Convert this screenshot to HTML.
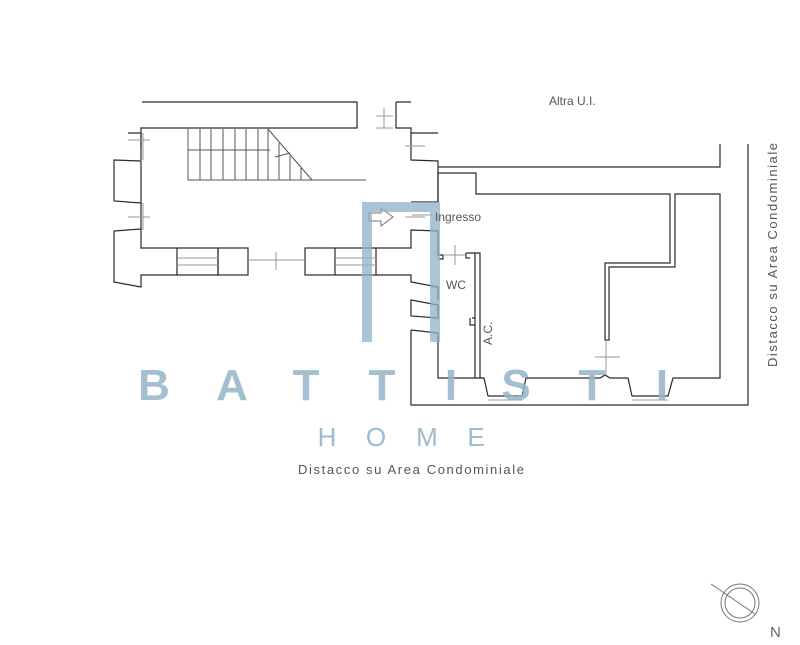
<!DOCTYPE html>
<html><head><meta charset="utf-8"><style>
html,body{margin:0;padding:0;background:#fff;}
svg{display:block;}
text{font-family:"Liberation Sans",sans-serif;}
</style></head><body>
<svg width="800" height="645" viewBox="0 0 800 645" xmlns="http://www.w3.org/2000/svg">
<rect width="800" height="645" fill="#fff"/>
<g fill="none" stroke="#2a2a2a" stroke-width="1.2">
<path d="M142 102 H357 V128 H141 V160"/>
<path d="M396 102 H411 M396 102 V128 H411 V133 H438"/>
<path d="M128 133 H141 V146"/>
<path d="M114 160 L141 161 V203 L114 201 Z"/>
<path d="M141 203 V230"/>
<path d="M114 231 L141 229 V248 H177 V275 H141 V287 L114 282 Z"/>
<path d="M177 248 H218 V275 H177"/>
<rect x="218" y="248" width="30" height="27"/>
<rect x="305" y="248" width="30" height="27"/>
<path d="M335 248 H376 V275 H335"/>
<path d="M376 248 H411 V230 L438 231 V255 H443 V259 H438"/>
<path d="M376 275 H411 V282 L438 287 V300"/>
<path d="M411 133 V160 L438 161 V202 L411 202"/>
<path d="M411 300 L438 305 V318 L411 316 Z"/>
<path d="M411 330 V405 H748 V144"/>
<path d="M411 330 L438 333 V378 H476"/>
<path d="M438 167 H720 V144"/>
<path d="M438 202 V173 H476 V194 H670 V263 H605 V340 H609 V267 H675 V194 H720 V378 H673 L668 396 H632 L628 378 H610 L605 375 L600 378 H526 L522 396 H488 L484 378 H480 V253 H475 V378"/>
<path d="M466 253 H475 M466 253 V258 H470"/>
<path d="M472 318 H475 M470 318 V325 H475"/>
<path d="M476 378 L484 378"/>
</g>
<g stroke="#555" stroke-width="1" fill="none">
<path d="M188 129 V180 H366"/>
<path d="M200 129V180M211 129V180M223 129V180M235 129V180M246 129V180M258 129V180M268 129V180M279 143V180M290 156V180M301 168V180"/>
<path d="M188 150 H270 M268 129 L312 180 M275 157 L290 153"/>
</g>
<g stroke="#999" stroke-width="1" fill="none">
<path d="M177 258 H218 M177 265 H218 M248 260 H305 M335 258 H376 M335 265 H376"/>
<path d="M128 140 H150 M128 217 H150 M143 133 V160 M143 203 V230"/>
<path d="M405 146 H425 M405 217 H425 M376 116 H393 M376 128 H393 M384 108 V128"/>
<path d="M412 215 H432 M443 255 H465 M455 245 V265 M595 357 H620 M606 340 V375"/>
<path d="M276 252 V270 M488 400 H522 M632 400 H668"/>
</g>
<path d="M369 213 H381 V208 L393 217 L381 226 V221 H369 Z" fill="#fff" stroke="#777" stroke-width="1"/>
<g fill="#8fb1c6" opacity="0.75">
<rect x="362" y="202" width="10" height="140"/>
<rect x="430" y="202" width="10" height="140"/>
<rect x="362" y="202" width="78" height="10"/>
</g>
<g fill="#93b4c8" opacity="0.85" font-weight="bold" font-size="44" text-anchor="middle">
<text x="154" y="400">B</text><text x="232" y="400">A</text><text x="306" y="400">T</text><text x="382" y="400">T</text><text x="451" y="400">I</text><text x="516" y="400">S</text><text x="592" y="400">T</text><text x="662" y="400">I</text>
</g>
<g fill="#9dbccd" font-size="26" text-anchor="middle">
<text x="327" y="446">H</text><text x="376" y="446">O</text><text x="427" y="446">M</text><text x="476" y="446">E</text>
</g>
<g fill="#555" font-size="13">
<text x="298" y="474" textLength="226">Distacco su Area Condominiale</text>
<text x="549" y="105" font-size="12">Altra U.I.</text>
<text x="435" y="221" font-size="12">Ingresso</text>
<text x="446" y="289" font-size="12">WC</text>
<text transform="translate(492,345) rotate(-90)" font-size="12">A.C.</text>
<text transform="translate(777,367) rotate(-90)" textLength="224">Distacco su Area Condominiale</text>
</g>
<g stroke="#777" fill="none" stroke-width="1">
<circle cx="740" cy="603" r="19"/><circle cx="740" cy="603" r="15"/>
<path d="M711 584 L755 614"/>
</g>
<text x="770" y="637" font-size="15" fill="#666">N</text>
</svg>
</body></html>
